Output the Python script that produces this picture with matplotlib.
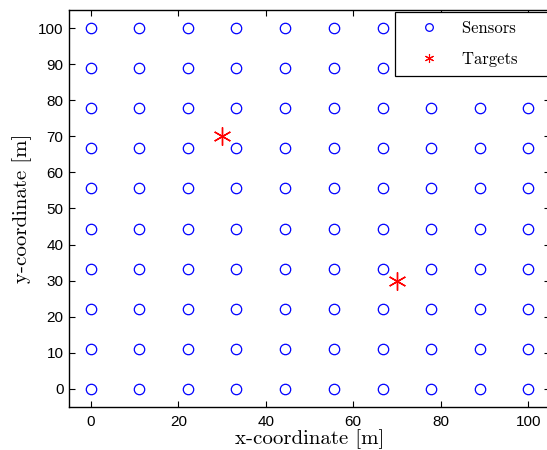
import numpy as np
import matplotlib
matplotlib.use('Agg')
import matplotlib.pyplot as plt

# sensor grid coordinates (same in x and y)
grid_x = [0, 11.1, 22.2, 33.3, 44.4, 55.6, 66.7, 77.8, 88.9, 100]
grid_y = [0, 11.1, 22.2, 33.3, 44.4, 55.6, 66.7, 77.8, 88.9, 100]

target_x = [30, 70]
target_y = [70, 30]

X, Y = np.meshgrid(grid_x, grid_y)

fig = plt.figure(figsize=(5.47, 4.5), dpi=100)
ax = fig.add_axes([69/547, 43/450, 481/547, 397/450])

ax.plot(X.ravel(), Y.ravel(), 'o', color='#0000ff', mfc='none', ms=7.5, mew=0.9, label='Sensors')
ax.plot(target_x, target_y, linestyle='none', marker=(6, 2, 0), color='#ff0000', ms=13, mew=1.0, label='Targets')

ax.set_xlim(-5, 105)
ax.set_ylim(-5, 105)
ax.set_xticks([0, 20, 40, 60, 80, 100])
ax.set_yticks(range(0, 101, 10))
ax.tick_params(direction='in', top=True, right=True, length=4, labelsize=11, width=0.8)
ax.tick_params(axis='y', pad=4)
ax.tick_params(axis='x', pad=6)
for lab in ax.get_xticklabels() + ax.get_yticklabels():
    lab.set_family('Liberation Sans')
for s in ax.spines.values():
    s.set_linewidth(1.0)

ax.set_xlabel('x-coordinate [m]', family='cmr10', fontsize=15, labelpad=0)
ax.set_ylabel('y-coordinate [m]', family='cmr10', fontsize=15, labelpad=4)

handles, labels = ax.get_legend_handles_labels()
leg = ax.legend(handles, [l + '    ' for l in labels], loc='upper right',
                bbox_to_anchor=(0.997, 0.995), borderaxespad=0,
                prop={'family': 'cmr10', 'size': 12}, fancybox=False, edgecolor='black',
                framealpha=1, handlelength=3.04, handletextpad=0.48, borderpad=0.52,
                labelspacing=0.96)
leg.get_frame().set_linewidth(0.9)
leg.legend_handles[0].set_markersize(5.5)
leg.legend_handles[1].set_markersize(6.5)
leg.legend_handles[1].set_markeredgewidth(0.8)

fig.savefig('out.png', dpi=100)
